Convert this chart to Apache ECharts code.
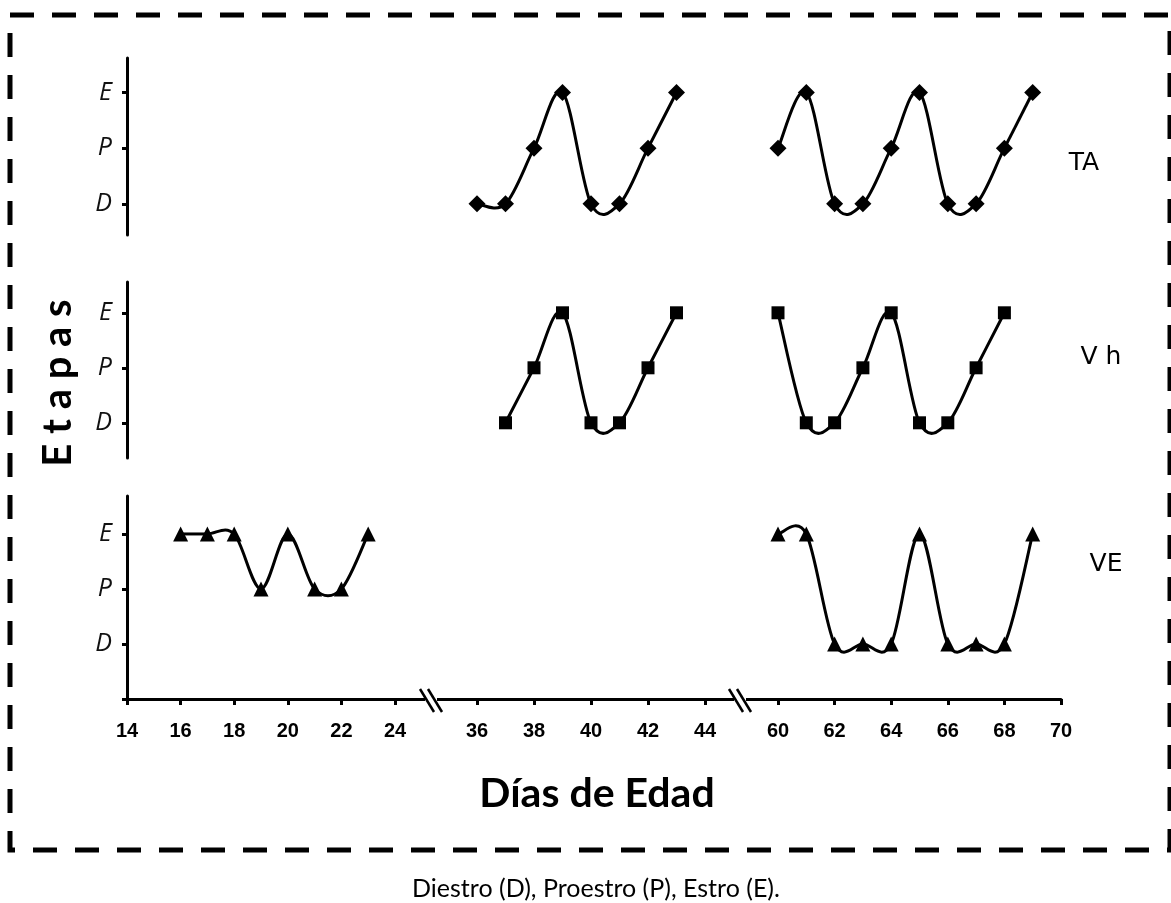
<!DOCTYPE html>
<html>
<head>
<meta charset="utf-8">
<script src="https://cdn.jsdelivr.net/npm/echarts@6/dist/echarts.min.js"></script>
<style>html,body{margin:0;padding:0;background:#fff;}#c{width:1171px;height:903px;}</style>
</head>
<body>
<div id="c"></div>
<script>
// ---- data ----
const stageNames = ['D', 'P', 'E'];
const stageValue = { D: 1, P: 2, E: 3 };
const xTickDays = [14, 16, 18, 20, 22, 24, 36, 38, 40, 42, 44, 60, 62, 64, 66, 68, 70];

const taDaysA = [36, 37, 38, 39, 40, 41, 42, 43];
const taStagesA = ['D', 'D', 'P', 'E', 'D', 'D', 'P', 'E'];
const taDaysB = [60, 61, 62, 63, 64, 65, 66, 67, 68, 69];
const taStagesB = ['P', 'E', 'D', 'D', 'P', 'E', 'D', 'D', 'P', 'E'];

const vhDaysA = [37, 38, 39, 40, 41, 42, 43];
const vhStagesA = ['D', 'P', 'E', 'D', 'D', 'P', 'E'];
const vhDaysB = [60, 61, 62, 63, 64, 65, 66, 67, 68];
const vhStagesB = ['E', 'D', 'D', 'P', 'E', 'D', 'D', 'P', 'E'];

const veDaysA = [16, 17, 18, 19, 20, 21, 22, 23];
const veStagesA = ['E', 'E', 'E', 'P', 'E', 'P', 'P', 'E'];
const veDaysB = [60, 61, 62, 63, 64, 65, 66, 67, 68, 69];
const veStagesB = ['E', 'E', 'D', 'D', 'D', 'E', 'D', 'D', 'D', 'E'];

const panelNames = ['TA', 'V h', 'VE'];

// ---- broken x scale: each segment of days mapped onto one continuous axis ----
const segments = [
  { lo: 10, hi: 30, day0: 14, pos0: 0, perDay: 26.8 },
  { lo: 30, hi: 50, day0: 36, pos0: 350, perDay: 28.5 },
  { lo: 50, hi: 80, day0: 60, pos0: 651, perDay: 28.3 }
];
const breakPositions = [305, 614];
const axisMax = 934;
function dayToPos(d) {
  const s = segments.find(s => d >= s.lo && d < s.hi);
  return s.pos0 + (d - s.day0) * s.perDay;
}
const tickPos = xTickDays.map(dayToPos);
function posLabel(v) {
  const i = tickPos.findIndex(p => Math.abs(p - v) < 0.01);
  return i >= 0 ? String(xTickDays[i]) : '';
}
function toData(days, stages) {
  return days.map((d, i) => [dayToPos(d), stageValue[stages[i]]]);
}

const chart = echarts.init(document.getElementById('c'), null, { renderer: 'canvas' });

const grids = [
  { left: 127, width: axisMax, top: 58, height: 177 },
  { left: 127, width: axisMax, top: 282, height: 176 },
  { left: 127, width: axisMax, top: 496, height: 203 }
];
const yRanges = [[0.44, 3.62], [0.36, 3.56], [0, 3.69]];

const yLabelStyle = { fontFamily: 'Open Sans', fontStyle: 'italic', fontSize: 25, color: '#111' };

const yAxes = yRanges.map((r, i) => {
  const vals = i === 2 ? [0, 1, 2, 3] : [1, 2, 3];
  return {
    type: 'value', gridIndex: i, min: r[0], max: r[1],
    splitLine: { show: false },
    axisLine: { show: true, onZero: false, lineStyle: { color: '#000', width: 3 } },
    axisTick: { show: true, customValues: vals, length: 5, lineStyle: { color: '#000', width: 3 } },
    axisLabel: Object.assign({
      customValues: vals, margin: 15,
      formatter: v => (v >= 1 ? stageNames[Math.round(v) - 1] : '')
    }, yLabelStyle)
  };
});

const xAxes = [0, 1, 2].map(i => ({
  type: 'value', gridIndex: i, min: 0, max: axisMax, show: i === 2,
  splitLine: { show: false },
  axisLine: { show: true, onZero: false, lineStyle: { color: '#000', width: 3 } },
  axisTick: { show: true, customValues: tickPos, length: 6, lineStyle: { color: '#000', width: 3 } },
  axisLabel: {
    customValues: tickPos, formatter: posLabel, margin: 22,
    fontFamily: 'Liberation Sans', fontWeight: 'bold', fontSize: 20, color: '#000'
  }
}));

// smooth curve (Catmull-Rom style Bezier, allowing overshoot) drawn through the axis scales
function curveSeries(idx, days, stages) {
  const data = toData(days, stages);
  return {
    type: 'custom', xAxisIndex: idx, yAxisIndex: idx,
    data: data, silent: true, animation: false, z: 2,
    renderItem: function (params, api) {
      const i = params.dataIndex;
      const n = data.length;
      if (i >= n - 1) return null;
      const p0 = api.coord(data[Math.max(i - 1, 0)]);
      const p1 = api.coord(data[i]);
      const p2 = api.coord(data[i + 1]);
      const p3 = api.coord(data[Math.min(i + 2, n - 1)]);
      const k = 1 / 6;
      return {
        type: 'bezierCurve',
        shape: {
          x1: p1[0], y1: p1[1], x2: p2[0], y2: p2[1],
          cpx1: p1[0] + (p2[0] - p0[0]) * k, cpy1: p1[1] + (p2[1] - p0[1]) * k,
          cpx2: p2[0] - (p3[0] - p1[0]) * k, cpy2: p2[1] - (p3[1] - p1[1]) * k
        },
        style: { stroke: '#000', lineWidth: 3, fill: null }
      };
    }
  };
}
function markerSeries(idx, days, stages, symbol, size) {
  return {
    type: 'scatter', xAxisIndex: idx, yAxisIndex: idx,
    data: toData(days, stages),
    symbol: symbol, symbolSize: size,
    itemStyle: { color: '#000', opacity: 1 },
    silent: true, animation: false, z: 3
  };
}

const series = [
  curveSeries(0, taDaysA, taStagesA), markerSeries(0, taDaysA, taStagesA, 'diamond', 17),
  curveSeries(0, taDaysB, taStagesB), markerSeries(0, taDaysB, taStagesB, 'diamond', 17),
  curveSeries(1, vhDaysA, vhStagesA), markerSeries(1, vhDaysA, vhStagesA, 'rect', 13),
  curveSeries(1, vhDaysB, vhStagesB), markerSeries(1, vhDaysB, vhStagesB, 'rect', 13),
  curveSeries(2, veDaysA, veStagesA), markerSeries(2, veDaysA, veStagesA, 'triangle', 15),
  curveSeries(2, veDaysB, veStagesB), markerSeries(2, veDaysB, veStagesB, 'triangle', 15)
];

const panelLabelPos = [[1084, 163], [1101, 357], [1106, 564]];

const graphics = [
  { type: 'rect', shape: { x: 10, y: 15, width: 1160, height: 835 },
    style: { fill: null, stroke: '#000', lineWidth: 5, lineDash: [24, 18] }, z: 10 },
  { type: 'text', x: 58, y: 383, rotation: Math.PI / 2,
    style: { text: 'E t a p a s', fontFamily: 'Lato', fontWeight: 'bold', fontSize: 40, fill: '#000', align: 'center', verticalAlign: 'middle' } },
  { type: 'text', x: 597, y: 794,
    style: { text: 'Días de Edad', fontFamily: 'Lato', fontWeight: 'bold', fontSize: 41, fill: '#000', align: 'center', verticalAlign: 'middle' } },
  { type: 'text', x: 596, y: 889,
    style: { text: 'Diestro (D), Proestro (P), Estro (E).', fontFamily: 'Lato', fontSize: 25, fill: '#000', align: 'center', verticalAlign: 'middle' } }
].concat(panelNames.map((n, i) => ({
  type: 'text', x: panelLabelPos[i][0], y: panelLabelPos[i][1],
  style: { text: n, fontFamily: 'DejaVu Sans', fontSize: 25, fill: '#000', align: 'center', verticalAlign: 'middle' }
})));

chart.setOption({
  animation: false,
  backgroundColor: '#fff',
  grid: grids,
  xAxis: xAxes,
  yAxis: yAxes,
  series: series,
  graphic: graphics
});

// axis break marks on the bottom x axis, placed through the axis scale
const y0 = chart.convertToPixel({ yAxisIndex: 2 }, 0);
const breakGraphics = [];
breakPositions.forEach(p => {
  const px = chart.convertToPixel({ xAxisIndex: 2 }, p);
  breakGraphics.push(
    { type: 'rect', shape: { x: px - 7, y: y0 - 3, width: 12, height: 6 }, style: { fill: '#fff' }, z: 20 },
    { type: 'line', shape: { x1: px - 12, y1: y0 - 10, x2: px + 2, y2: y0 + 13 }, style: { stroke: '#000', lineWidth: 2.5 }, z: 21 },
    { type: 'line', shape: { x1: px - 4, y1: y0 - 10, x2: px + 10, y2: y0 + 13 }, style: { stroke: '#000', lineWidth: 2.5 }, z: 21 }
  );
});
chart.setOption({ graphic: graphics.concat(breakGraphics) });
</script>
</body>
</html>
